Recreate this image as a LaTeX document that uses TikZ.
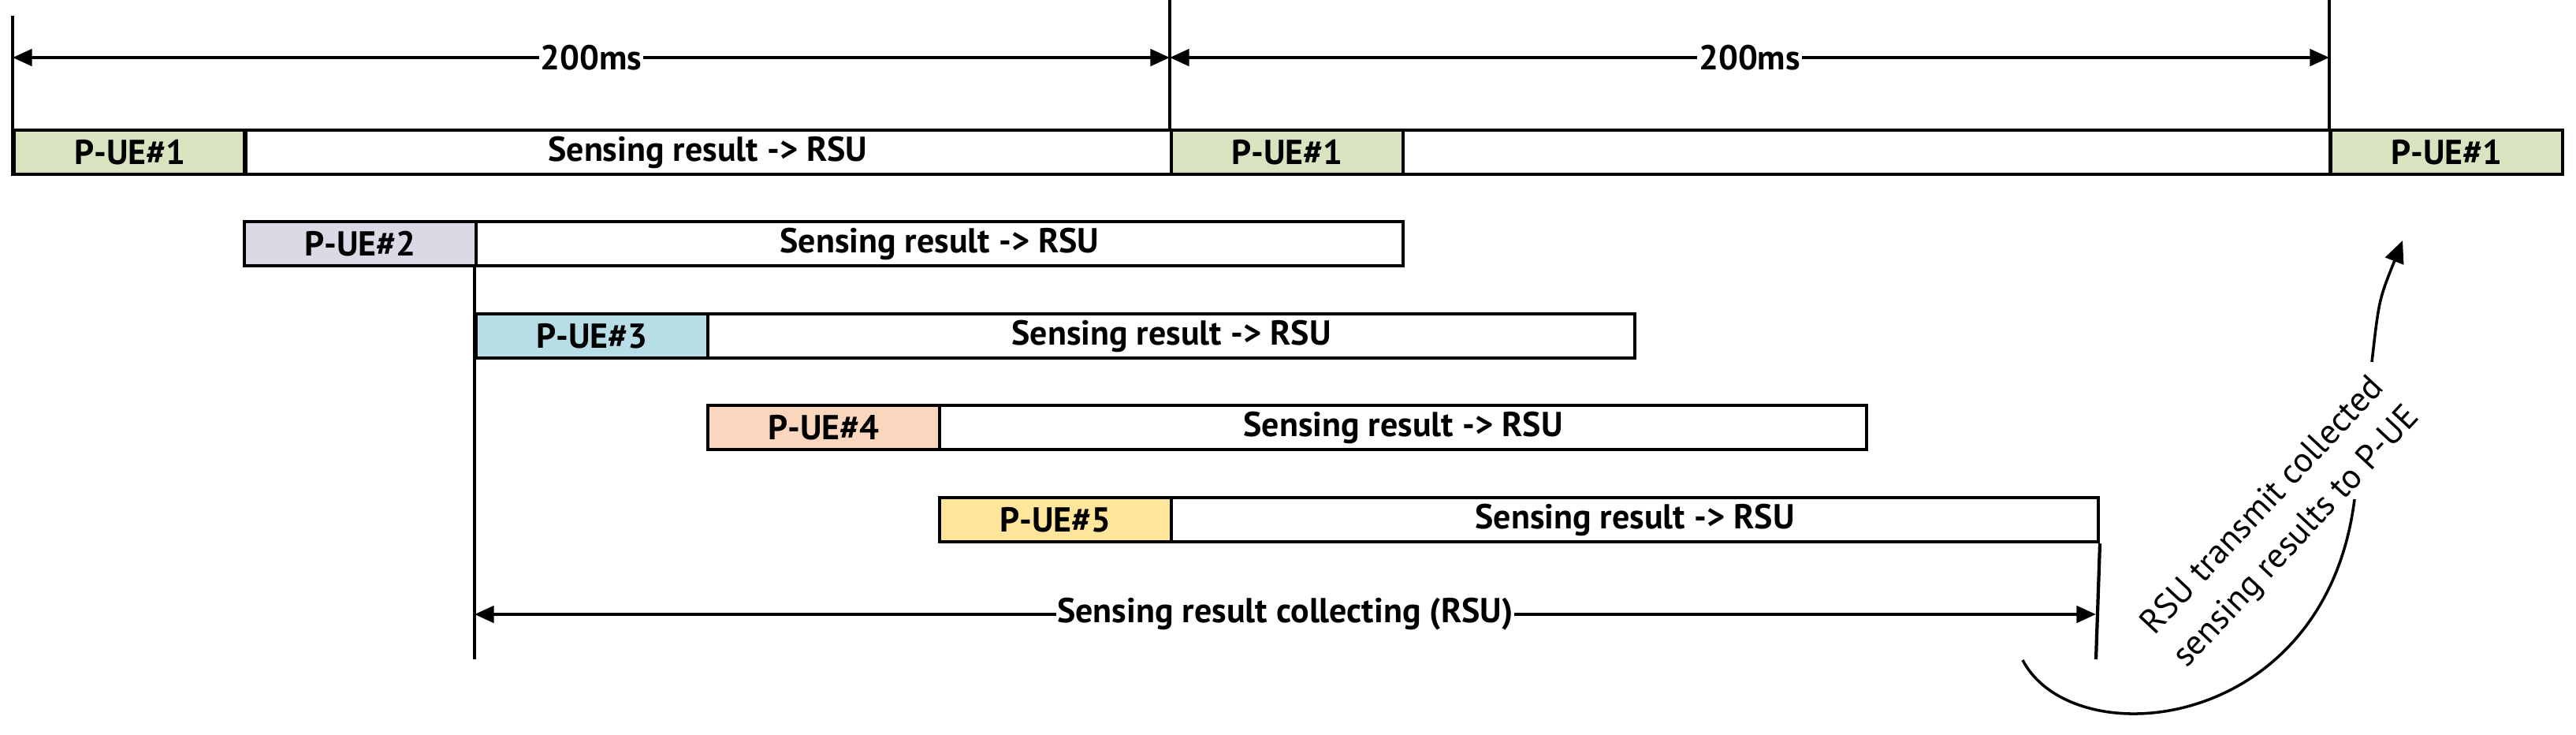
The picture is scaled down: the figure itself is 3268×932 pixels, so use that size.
\documentclass[tikz,border=0pt]{standalone}
\usepackage{fontspec}
\setmainfont{PT Sans}
\usetikzlibrary{arrows.meta}
\definecolor{cA}{HTML}{D8E4BF}
\definecolor{cB}{HTML}{DCD8E6}
\definecolor{cC}{HTML}{B7DDE7}
\definecolor{cD}{HTML}{FAD6BE}
\definecolor{cE}{HTML}{FFE69A}
\begin{document}
\begin{tikzpicture}[x=0.02cm,y=-0.02cm,line width=2.4pt,
  cell/.style={draw,line width=2.4pt,minimum height=1.12cm,inner sep=0pt,font=\fontsize{25}{28}\selectfont\bfseries,anchor=north west},
  lbl/.style={font=\fontsize{25}{28}\selectfont\bfseries,fill=white,inner sep=1pt},
  arr/.style={{Triangle[length=14pt,width=12pt]}-{Triangle[length=14pt,width=12pt]}}]
\useasboundingbox (0,0) rectangle (3268,932);
% row1
\node[cell,fill=cA,minimum width=5.88cm] (a1) at (16,163) {P-UE\#1};
\node[cell,minimum width=23.52cm] (a1s) at (308,163) {Sensing result -> RSU};
\node[cell,fill=cA,minimum width=5.88cm] (b1) at (1484,163) {P-UE\#1};
\node[cell,minimum width=23.52cm] (b1s) at (1778,163) {};
\node[cell,fill=cA,minimum width=5.88cm] (c1) at (2955,163) {P-UE\#1};
% rows 2-5
\node[cell,fill=cB,minimum width=5.88cm] (u2) at (308,279) {P-UE\#2};
\node[cell,minimum width=23.52cm] (s2) at (602,279) {Sensing result -> RSU};
\node[cell,fill=cC,minimum width=5.88cm] (u3) at (602,396) {P-UE\#3};
\node[cell,minimum width=23.52cm] (s3) at (896,396) {Sensing result -> RSU};
\node[cell,fill=cD,minimum width=5.88cm] (u4) at (896,512) {P-UE\#4};
\node[cell,minimum width=23.52cm] (s4) at (1190,512) {Sensing result -> RSU};
\node[cell,fill=cE,minimum width=5.88cm] (u5) at (1190,629) {P-UE\#5};
\node[cell,minimum width=23.52cm] (s5) at (1484,629) {Sensing result -> RSU};
% vertical guide lines
\coordinate (t0) at (16,20);
\coordinate (t1) at (1484,0);
\coordinate (t2) at (2955,0);
\coordinate (bl) at (602,836);
\coordinate (br) at (2659,836);
\draw (t0) -- (a1.south west);
\draw (t1) -- (b1.north west);
\draw (t2) -- (c1.north west);
\draw (s2.south west) -- (bl);
\draw (s5.south east) -- (br);
% dimension arrows
\coordinate (d0) at (16,73); \coordinate (d1) at (1484,73); \coordinate (d2) at (2955,73);
\draw[arr] (d0) -- node[lbl] {200ms} (d1);
\draw[arr] (d1) -- node[lbl] {200ms} (d2);
\coordinate (e0) at (602,779); \coordinate (e1) at (2659,779);
\draw[arr] (e0) -- node[lbl] {Sensing result collecting (RSU)} (e1);
% curved arrow
\coordinate (k0) at (2566,837);
\coordinate (k1) at (2987,633);
\coordinate (k2) at (3009,459);
\coordinate (k3) at (3048,305);
\draw[line width=2pt] (k0) .. controls (2630,960) and (2950,930) .. (k1);
\draw[line width=2pt,-{Triangle[length=16pt,width=14pt]}] (k2) .. controls (3018,380) .. (k3);
\node[rotate=47,align=center,font=\fontsize{25}{33}\selectfont] (txt) at (2893,662) {RSU transmit collected\\sensing results to P-UE};
\end{tikzpicture}
\end{document}
